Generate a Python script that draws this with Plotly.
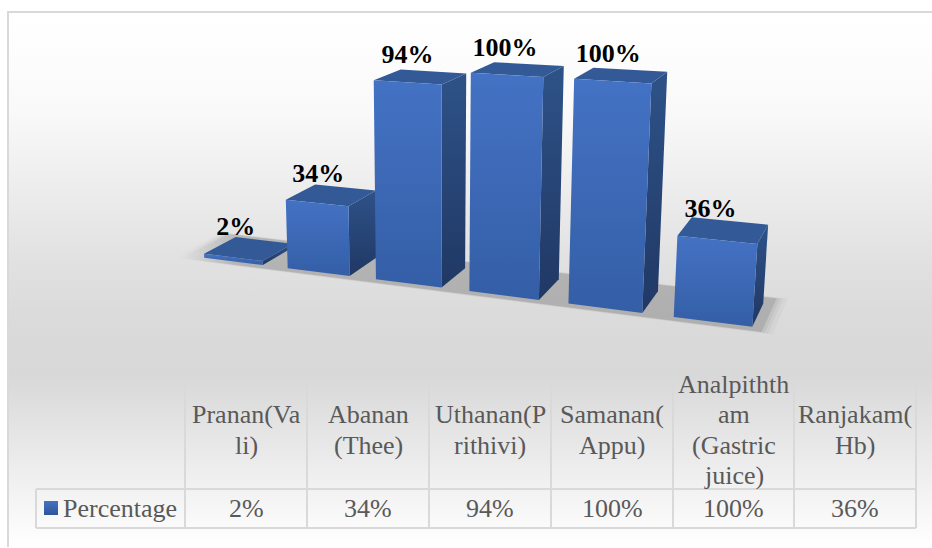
"""3D style column chart with a data table underneath."""

import numpy as np
import plotly.graph_objects as go

# wrapped exactly as the table cells wrap them
categories = [
    ["Pranan(Va", "li)"],
    ["Abanan", "(Thee)"],
    ["Uthanan(P", "rithivi)"],
    ["Samanan(", "Appu)"],
    ["Analpithth", "am", "(Gastric", "juice)"],
    ["Ranjakam(", "Hb)"],
]
values = [2, 34, 94, 100, 100, 36]
series_name = "Percentage"

# camera of the chart: (category, depth, value) -> axis position
CAMERA = np.array(
    [
        [76.437, 42.05503, -0.1603912, 233.2501],
        [3.326522, -6.679774, -2.053363, 261.2944],
        [-0.02726737, 0.04296718, -0.0003689601, 1.0],
    ]
)
BAR_WIDTH = 0.7081

TABLE_EDGES = [185, 307, 429, 551, 673, 794, 916]
LINE_COLOR = "#d9d9d9"
TEXT_COLOR = "#595959"
FONT = "Liberation Serif"
BACKDROP_TOP, BACKDROP_BOTTOM = 12, 547
BACKDROP_STOPS = [
    (12, "#ffffff"),
    (55, "#fdfdfd"),
    (112, "#f9f9f9"),
    (162, "#f1f1f1"),
    (212, "#e9e9e9"),
    (262, "#e1e1e1"),
    (312, "#dbdbdb"),
    (375, "#d8d8d8"),
    (547, "#ffffff"),
]


def proj(x, y, z):
    h = CAMERA @ np.array([x, y, z, 1.0])
    return h[:2] / h[2]


def poly(fig, points, scale, kind="vertical", start=None, stop=None):
    pts = np.array(points)
    grad = {"type": kind, "colorscale": scale}
    if start is not None:
        grad.update(start=float(start), stop=float(stop))
    fig.add_trace(
        go.Scatter(
            x=[*pts[:, 0], pts[0, 0]],
            y=[*pts[:, 1], pts[0, 1]],
            mode="lines",
            line={"width": 0},
            fill="toself",
            fillgradient=grad,
            hoverinfo="skip",
        )
    )


def ramp(first, last):
    return [[0, first], [1, last]]


fig = go.Figure()

# chart area
span = BACKDROP_BOTTOM - BACKDROP_TOP
poly(
    fig,
    [(8, BACKDROP_TOP), (932, BACKDROP_TOP), (932, BACKDROP_BOTTOM), (8, BACKDROP_BOTTOM)],
    [[(y - BACKDROP_TOP) / span, col] for y, col in BACKDROP_STOPS],
    start=BACKDROP_TOP,
    stop=BACKDROP_BOTTOM,
)

# floor shadow, stacked so the edge goes soft
for grow, alpha in [(0.10, 0.03), (0.06, 0.04), (0.03, 0.05), (0.0, 0.10)]:
    x0, x1 = -0.57 - grow, 5.45 + grow
    y0, y1 = -0.15 - grow / 2, 1.3 + grow / 2
    floor = [proj(x0, y0, 0), proj(x1, y0, 0), proj(x1, y1, 0), proj(x0, y1, 0)]
    poly(fig, floor, ramp("rgba(0,0,0,0)", f"rgba(0,0,0,{alpha})"), "horizontal", floor[0][0], floor[0][0] + 60)

# value labels go first: the bars cover their lower edge
anchors = np.array([proj(i, 0.5, v) for i, v in enumerate(values)])
fig.add_trace(
    go.Scatter(
        x=anchors[:, 0] - 13,
        y=anchors[:, 1] - 20,
        mode="text",
        text=[f"{v}%" for v in values],
        textfont={"family": FONT, "size": 26, "color": "black", "weight": "bold"},
        textposition="middle center",
        hoverinfo="skip",
    )
)

for i, v in enumerate(values):
    left, right = i - BAR_WIDTH / 2, i + BAR_WIDTH / 2
    ftl, ftr = proj(left, 0, v), proj(right, 0, v)
    btl, btr = proj(left, 1, v), proj(right, 1, v)
    fbl, fbr, bbr = proj(left, 0, 0), proj(right, 0, 0), proj(right, 1, 0)
    poly(fig, [ftr, btr, bbr, fbr], ramp("#2e5288", "#203864"), start=min(ftr[1], btr[1]), stop=fbr[1])
    poly(fig, [btl, btr, ftr, ftl], ramp("#335a97", "#335a97"))
    poly(fig, [ftl, ftr, fbr, fbl], ramp("#4472c4", "#345ea6"), start=ftl[1], stop=fbr[1])

# legend key in the table
fig.add_trace(
    go.Scatter(
        x=[51],
        y=[508],
        mode="markers",
        hoverinfo="skip",
        marker={
            "symbol": "square",
            "size": 14,
            "color": "#4472c4",
            "line": {"width": 0},
            "gradient": {"type": "vertical", "color": "#2f5597"},
        },
    )
)

border = {"color": LINE_COLOR, "width": 2}
shapes = [
    {"type": "line", "x0": 8, "x1": 8, "y0": 11, "y1": 547, "line": border},
    {"type": "line", "x0": 8, "x1": 932, "y0": 12, "y1": 12, "line": border},
    {"type": "line", "x0": 36, "x1": 916, "y0": 489, "y1": 489, "line": border},
    {"type": "line", "x0": 36, "x1": 916, "y0": 528, "y1": 528, "line": border},
    {"type": "line", "x0": 36, "x1": 36, "y0": 489, "y1": 528, "line": border},
]
shapes += [{"type": "line", "x0": x, "x1": x, "y0": 385, "y1": 528, "line": border} for x in TABLE_EDGES]

font = {"family": FONT, "size": 26, "color": TEXT_COLOR}
annotations = [{"x": 61, "y": 508.5, "text": series_name, "showarrow": False, "xanchor": "left", "font": font}]
for i, (lines, v) in enumerate(zip(categories, values)):
    mid = (TABLE_EDGES[i] + TABLE_EDGES[i + 1]) / 2
    annotations.append({"x": mid, "y": 508.5, "text": f"{v}%", "showarrow": False, "font": font})
    for k, line in enumerate(lines):
        y = 430 + (k - (len(lines) - 1) / 2) * 30.5
        annotations.append({"x": mid, "y": y, "text": line, "showarrow": False, "font": font})

fig.update_layout(
    width=932,
    height=548,
    margin={"l": 0, "r": 0, "t": 0, "b": 0},
    paper_bgcolor="white",
    plot_bgcolor="white",
    shapes=shapes,
    annotations=annotations,
    showlegend=False,
    xaxis={"range": [0, 932], "visible": False, "fixedrange": True},
    yaxis={"range": [548, 0], "visible": False, "fixedrange": True},
)
fig.write_html("out.html", config={"displayModeBar": False}, post_script="document.body.style.margin = '0';")
